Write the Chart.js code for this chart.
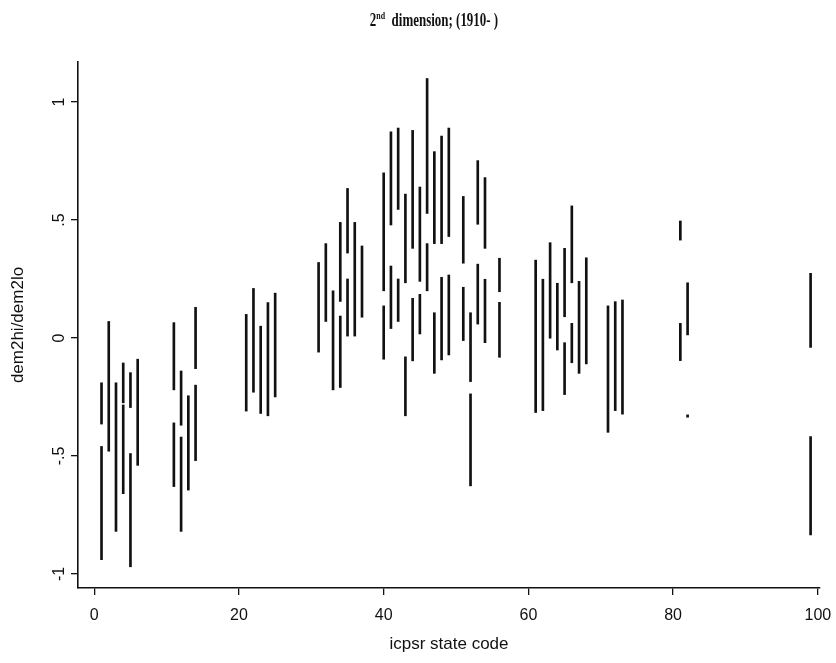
<!DOCTYPE html>
<html><head><meta charset="utf-8">
<script src="https://cdn.jsdelivr.net/npm/chart.js@4.4.1/dist/chart.umd.min.js"></script>
<style>
html,body{margin:0;padding:0;background:#fff;}
#wrap{position:relative;width:836px;height:663px;}
#title{position:absolute;left:0;width:868px;top:10px;text-align:center;font-family:"Liberation Serif","Times New Roman",serif;font-weight:bold;font-size:18px;color:#111;line-height:20px;transform:scaleX(0.72);transform-origin:434px 0;}
#title sup{font-size:11px;vertical-align:7px;line-height:0;}
canvas{position:absolute;left:0;top:0;}
</style></head><body>
<div id="wrap"><canvas id="c" width="836" height="663"></canvas><div id="title">2<sup>nd</sup>&nbsp; dimension; (1910- )</div></div>
<script>
// ICPSR state codes
const stateCodes = [1,2,3,4,5,6,11,12,13,14,21,22,23,24,25,31,32,33,34,35,36,37,40,41,42,43,44,45,46,47,48,49,51,52,53,54,56,61,62,63,64,65,66,67,68,71,72,73,81,82,99];
// first interval (upper)
const dem2hiA = [-0.19,0.07,-0.19,-0.106,-0.147,-0.09,0.065,-0.14,-0.245,0.13,0.10,0.21,0.05,0.15,0.19,0.32,0.40,0.20,0.49,0.634,0.49,0.39,0.70,0.874,0.89,0.61,0.88,0.64,1.10,0.79,0.856,0.89,0.60,0.107,0.752,0.68,0.338,0.33,0.249,0.404,0.232,0.38,0.56,0.24,0.34,0.136,0.154,0.161,0.496,0.234,0.274];
const dem2loA = [-0.365,-0.48,-0.82,-0.275,-0.295,-0.54,-0.22,-0.37,-0.645,-0.13,-0.31,-0.23,-0.32,-0.33,-0.25,-0.06,0.07,-0.22,0.155,0.36,0.008,0.088,0.20,0.479,0.545,0.234,0.38,0.24,0.528,0.40,0.40,0.43,0.317,-0.185,0.482,0.38,0.196,-0.316,-0.308,-0.001,-0.051,0.09,0.234,-0.15,-0.11,-0.40,-0.308,-0.323,0.415,0.013,-0.04];
// second interval (lower); null where none
const dem2hiB = [-0.46,null,null,-0.284,-0.49,null,-0.36,-0.42,null,-0.20,null,null,null,null,null,null,null,null,0.093,0.25,null,null,0.136,0.305,0.25,-0.08,0.168,0.185,0.40,0.107,0.257,0.267,0.215,-0.237,0.313,0.249,0.151,null,null,null,null,-0.02,0.062,null,null,null,null,null,0.062,-0.326,-0.418];
const dem2loB = [-0.94,null,null,-0.66,-0.97,null,-0.63,-0.82,null,-0.52,null,null,null,null,null,null,null,null,-0.21,0.008,null,null,-0.09,0.04,0.07,-0.33,-0.097,0.017,0.20,-0.15,-0.093,-0.072,-0.011,-0.627,0.059,-0.02,-0.082,null,null,null,null,-0.24,-0.105,null,null,null,null,null,-0.096,-0.336,-0.835];
const xTicks = [0,20,40,60,80,100];
const yTicks = [-1,-0.5,0,0.5,1];
const yTickLabels = ['-1','-.5','0','.5','1'];

function pairs(hi, lo){
  const out=[];
  stateCodes.forEach((c,i)=>{ if(hi[i]!==null && lo[i]!==null) out.push({x:c, y:[lo[i],hi[i]]}); });
  return out;
}

const yLabelPlugin = {
  id:'yLabels',
  afterDraw(chart){
    const s = chart.scales.y, ctx = chart.ctx;
    ctx.save();
    ctx.fillStyle='#111';
    ctx.font='16px "Liberation Sans", Arial, sans-serif';
    ctx.textAlign='center'; ctx.textBaseline='middle';
    yTicks.forEach((v,i)=>{
      const py = s.getPixelForValue(v);
      ctx.save(); ctx.translate(60, py); ctx.rotate(-Math.PI/2);
      ctx.fillText(yTickLabels[i],0,0); ctx.restore();
    });
    ctx.restore();
  }
};

const axisFont = {family:'"Liberation Sans", Arial, sans-serif', size:17};
new Chart(document.getElementById('c'), {
  type:'bar',
  data:{datasets:[
    {label:'dem2hi/dem2lo', data:pairs(dem2hiA,dem2loA), backgroundColor:'#111', borderWidth:0, barThickness:2, grouped:false},
    {label:'dem2hi/dem2lo ', data:pairs(dem2hiB,dem2loB), backgroundColor:'#111', borderWidth:0, barThickness:2, grouped:false}
  ]},
  options:{
    responsive:false, animation:false,
    layout:{padding:{left:0,right:16,top:62,bottom:0}},
    plugins:{legend:{display:false}, tooltip:{enabled:false}, title:{display:false}},
    scales:{
      x:{type:'linear', min:-2.25, max:100.3, offset:false,
        afterBuildTicks:s=>{s.ticks = xTicks.map(v=>({value:v}));},
        afterFit:s=>{s.height=75; s.paddingLeft=0; s.paddingRight=0;},
        grid:{offset:false, drawOnChartArea:false, drawTicks:true, tickLength:7, color:'#111', lineWidth:1.3},
        border:{display:true, color:'#111', width:1.6},
        ticks:{color:'#111', font:{family:'"Liberation Sans", Arial, sans-serif', size:16}, padding:11, maxRotation:0, autoSkip:false, callback:v=>String(v)},
        title:{display:true, text:'icpsr state code', color:'#111', font:axisFont, padding:{top:0,bottom:8}}
      },
      y:{type:'linear', min:-1.06, max:1.17,
        afterBuildTicks:s=>{s.ticks = yTicks.map(v=>({value:v}));},
        afterFit:s=>{s.width=78; s.paddingTop=0; s.paddingBottom=0;},
        grid:{offset:false, drawOnChartArea:false, drawTicks:true, tickLength:7, color:'#111', lineWidth:1.3},
        border:{display:true, color:'#111', width:1.6},
        ticks:{display:false},
        title:{display:true, text:'dem2hi/dem2lo', color:'#111', font:axisFont, padding:{top:8,bottom:0}}
      }
    }
  },
  plugins:[yLabelPlugin]
});
</script>
</body></html>
